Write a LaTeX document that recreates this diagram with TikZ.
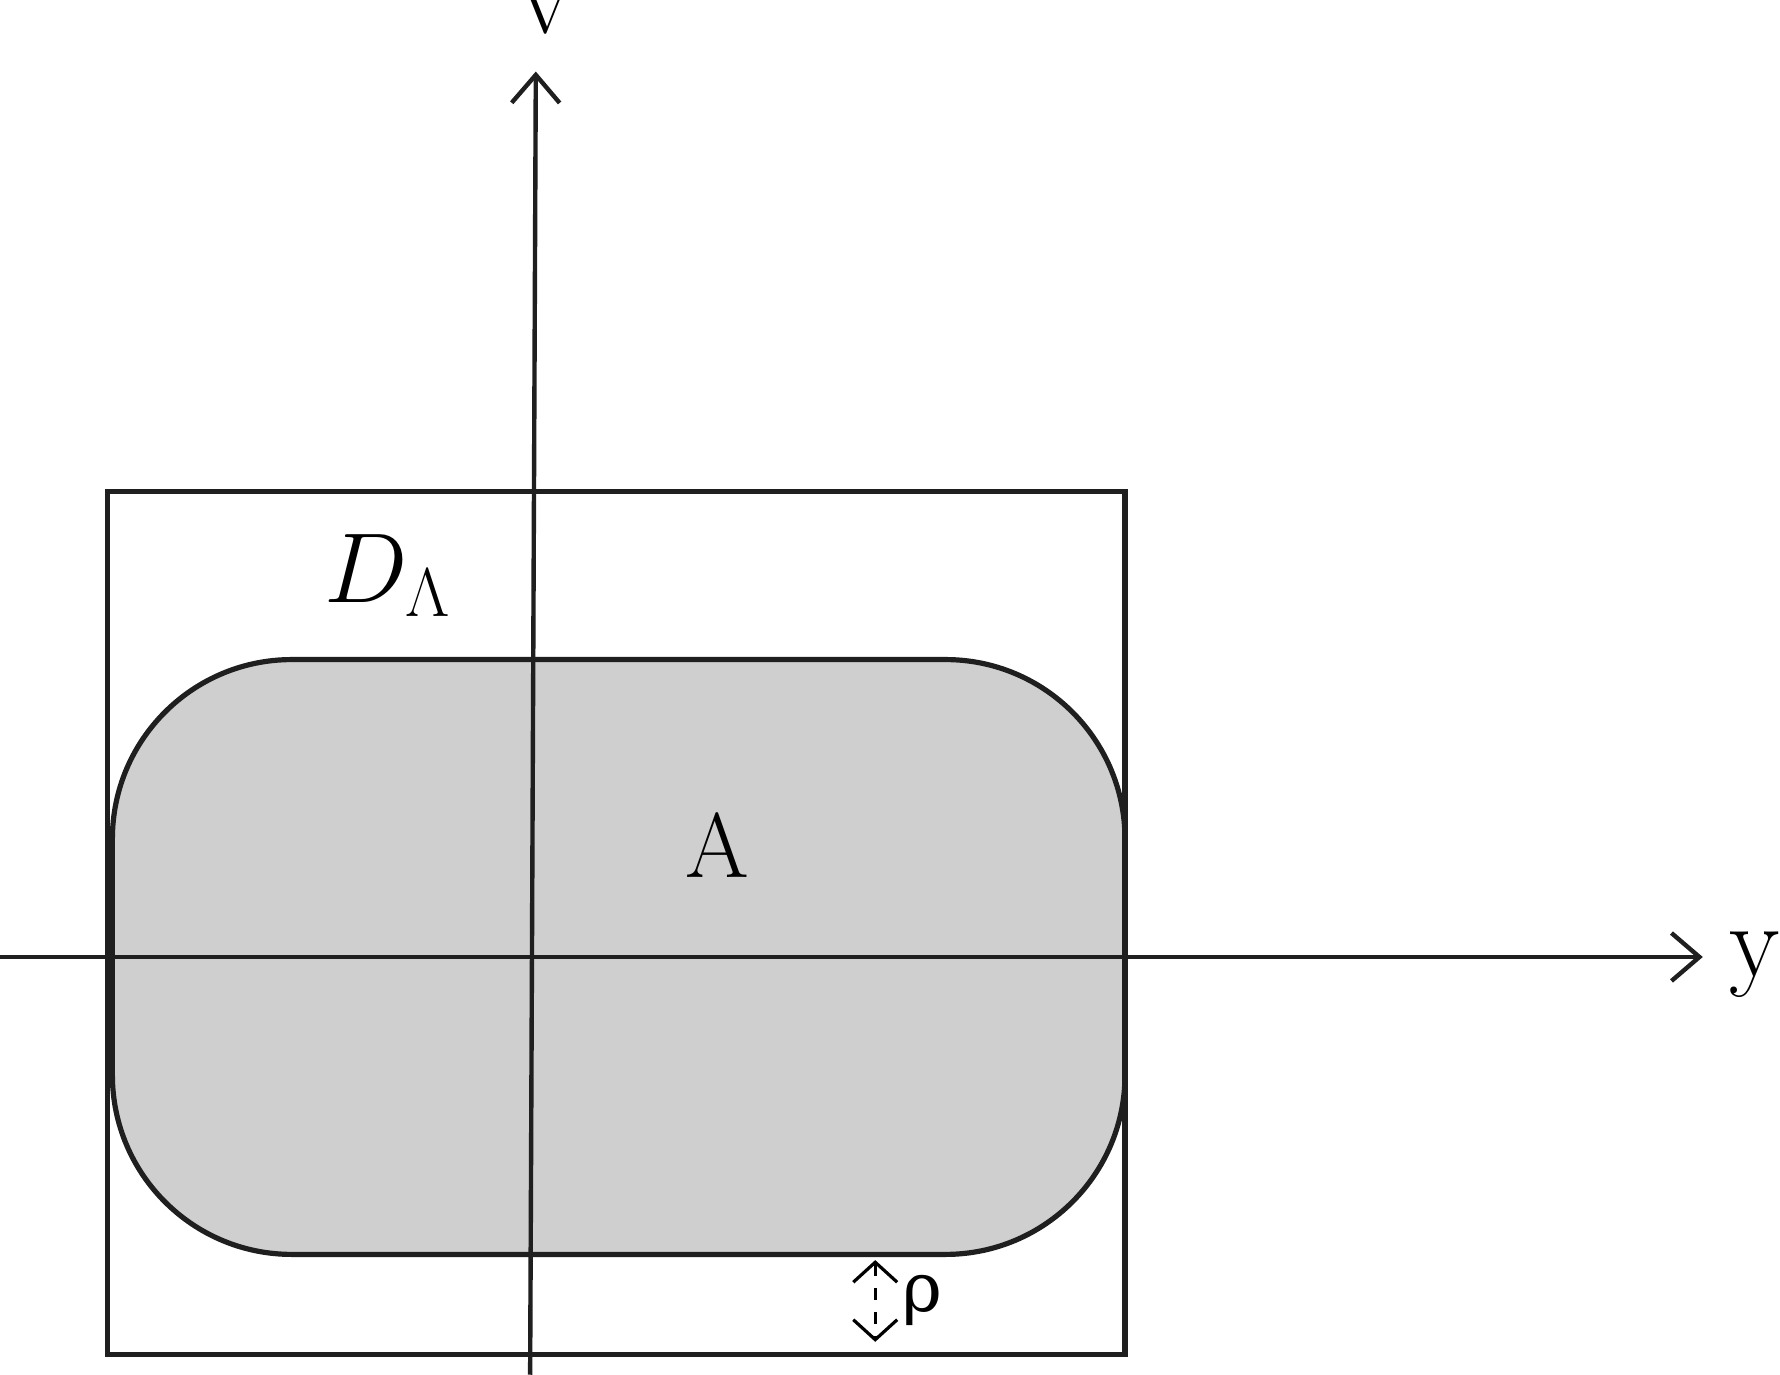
\documentclass[tikz,border=0pt]{standalone}
\usepackage{fontspec}
\newfontfamily\rhofont{DejaVu Serif}
\usetikzlibrary{arrows.meta}
\begin{document}
\begin{tikzpicture}[x=0.01cm,y=-0.01cm,line width=1.1pt,
  lab/.style={inner sep=0pt,font=\fontsize{23}{27}\selectfont},
  ax/.style={-{Straight Barb[length=7pt,width=12pt]}}]
\useasboundingbox (0,0) rectangle (1568,1211);
\path[fill=black!19,draw=black!88,line width=1.3pt,rounded corners=1.58cm] (99,1105) rectangle (991,581);
\draw[black!88,line width=1.3pt] (95,433) rectangle (991,1193);
\coordinate (vb) at (467,1211);
\coordinate (vt) at (472,63);
\coordinate (hl) at (0,843);
\coordinate (hr) at (1500,843);
\draw[ax,black!88] (vb) -- (vt);
\draw[ax,black!88] (hl) -- (hr);
\node[lab,font=\fontsize{26}{30}\selectfont] (v) at (481,10) {v};
\node[lab,font=\fontsize{26}{30}\selectfont] (y) at (1546,850) {y};
\node[lab] (D) at (342,507) {$D_\Lambda$};
\node[lab] (A) at (632,744) {A};
\coordinate (r1) at (771,1110);
\coordinate (r2) at (771,1182);
\draw[dashed,line width=0.8pt,{Straight Barb[length=5pt,width=11pt]}-{Straight Barb[length=5pt,width=11pt]}] (r1) -- (r2);
\node[inner sep=0pt,font=\fontsize{17}{20}\selectfont\rhofont] (rho) at (813,1146) {ρ};
\end{tikzpicture}
\end{document}
